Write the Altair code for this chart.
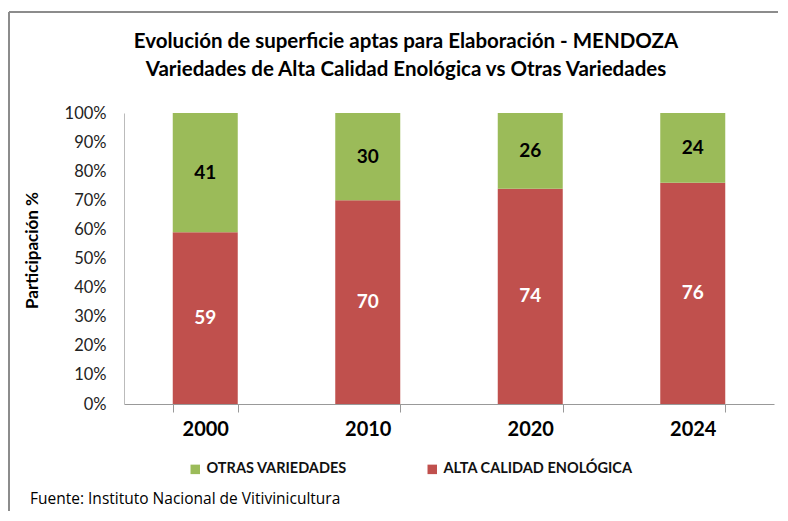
import altair as alt
import pandas as pd

years = ["2000", "2010", "2020", "2024"]
alta = [59, 70, 74, 76]
otras = [41, 30, 26, 24]
series = ["ALTA CALIDAD ENOLÓGICA", "OTRAS VARIEDADES"]
y_ticks = [0, 10, 20, 30, 40, 50, 60, 70, 80, 90, 100]
title_lines = ["Evolución de superficie aptas para Elaboración  - MENDOZA",
               "Variedades de Alta Calidad Enológica vs Otras Variedades"]
footer = "Fuente: Instituto Nacional de Vitivinicultura"

rows = []
for i, y in enumerate(years):
    rows.append({"year": y, "serie": series[0], "val": alta[i], "ord": 0, "tc": "white"})
    rows.append({"year": y, "serie": series[1], "val": otras[i], "ord": 1, "tc": "black"})
df = pd.DataFrame(rows)

FONT = "Lato"
GREEN = "#9BBB59"
RED = "#C0504D"

base = alt.Chart(df).transform_stack(
    stack="val", groupby=["year"], as_=["v0", "v1"], sort=[alt.SortField("ord")]
).transform_calculate(mid="(datum.v0 + datum.v1) / 2")

x_axis = alt.Axis(labelAngle=0, labelFontSize=20, labelFontWeight="bold",
                  labelColor="#000", labelFont=FONT, domainColor="#999",
                  tickColor="#999", tickSize=8, tickBand="extent",
                  labelPadding=7, grid=False)
y_axis = alt.Axis(values=y_ticks, labelExpr="datum.value + '%'", grid=False,
                  labelOverlap=False, tickCount=11,
                  ticks=False, domainColor="#bbb", labelFontSize=16.5,
                  labelFont=FONT, labelColor="#222", labelPadding=18,
                  titleFont=FONT, titleFontSize=17, titleFontWeight="bold",
                  titleColor="#000", titleX=-92, titleY=137,
                  titleBaseline="middle")
x_scale = alt.Scale(paddingInner=0.6, paddingOuter=0.3)
y_scale = alt.Scale(domain=[0, 100])

bars = base.mark_bar().encode(
    x=alt.X("year:N", title=None, sort=years, scale=x_scale, axis=x_axis),
    y=alt.Y("v0:Q", scale=y_scale, title="Participación %", axis=y_axis),
    y2="v1:Q",
    color=alt.Color("serie:N", scale=alt.Scale(domain=[series[1], series[0]], range=[GREEN, RED]),
                    legend=alt.Legend(title=None, orient="none", direction="horizontal",
                                      legendX=64, legendY=349, symbolType="square",
                                      symbolSize=90, symbolStrokeWidth=0, labelFontSize=14.5,
                                      labelFont=FONT, labelFontWeight="bold", labelColor="#111",
                                      labelLimit=400, columnPadding=78, labelOffset=4,
                                      padding=0)),
)

labels = base.mark_text(font=FONT, fontSize=19, fontWeight="bold").encode(
    x=alt.X("year:N", title=None, sort=years, scale=x_scale, axis=x_axis),
    y=alt.Y("mid:Q", scale=y_scale, title="Participación %", axis=y_axis),
    text="val:Q",
    color=alt.Color("tc:N", scale=None),
)

def text_line(s, xv, yv, size, weight, align, font=FONT):
    return alt.Chart(pd.DataFrame({"t": [s]})).mark_text(
        font=font, fontSize=size, fontWeight=weight, color="#000", align=align,
        baseline="middle"
    ).encode(x=alt.value(xv), y=alt.value(yv), text="t:N")

title1 = text_line(title_lines[0], 282, -71, 20.5, "bold", "center")
title2 = text_line(title_lines[1], 282, -43, 20.5, "bold", "center")
foot = text_line(footer, -94, 386, 15.5, "normal", "left", "Open Sans")

frame_top = alt.Chart(pd.DataFrame({"a": [0]})).mark_rule(color="#8c8c8c", strokeWidth=2).encode(
    x=alt.value(-115), x2=alt.value(660), y=alt.value(-101))
frame_left = alt.Chart(pd.DataFrame({"a": [0]})).mark_rule(color="#8c8c8c", strokeWidth=2).encode(
    x=alt.value(-115), y=alt.value(-101), y2=alt.value(420))

chart = alt.layer(bars, labels, title1, title2, foot, frame_top, frame_left).properties(
    width=650, height=291,
    autosize=alt.AutoSizeParams(type="none"),
    padding={"left": 116, "top": 105, "right": 4, "bottom": 107},
).configure_view(stroke=None)

chart.save("out.html", embed_options={"renderer": "svg", "actions": False})
